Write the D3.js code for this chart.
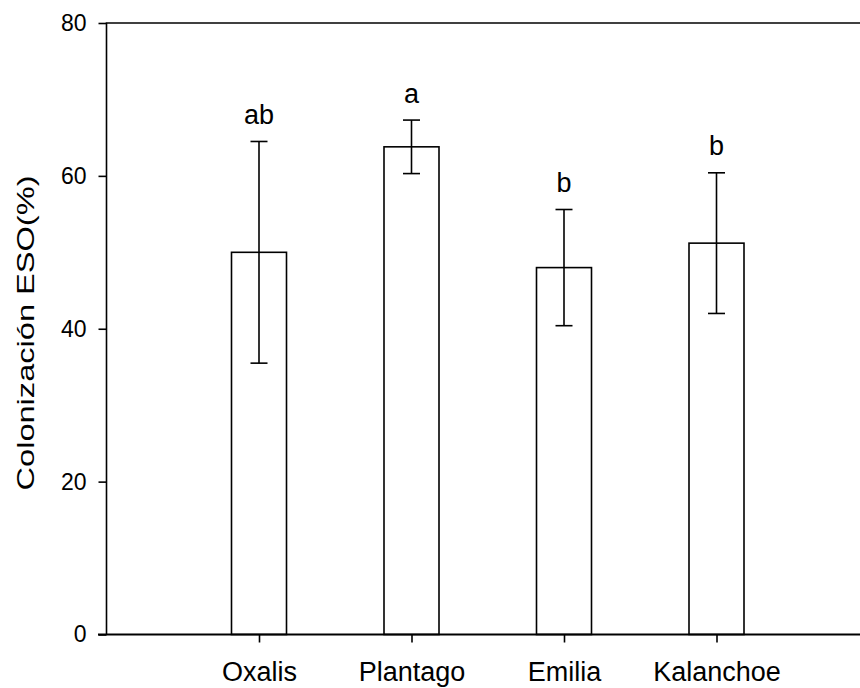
<!DOCTYPE html>
<html><head><meta charset="utf-8">
<script src="https://cdn.jsdelivr.net/npm/d3@7"></script>
<style>body{margin:0;background:#fff}svg{display:block}text{font-family:"Liberation Sans",Arial,sans-serif;fill:#000}</style>
</head><body><svg id="c" width="860" height="688"></svg>
<script>
const categories = ["Oxalis", "Plantago", "Emilia", "Kalanchoe"];
const means = [50.0, 63.8, 48.0, 51.2];
const errors = [14.5, 3.5, 7.6, 9.2];
const letters = ["ab", "a", "b", "b"];
const yTicks = [0, 20, 40, 60, 80];

const svg = d3.select("#c");
const pL = 106.5, pR = 869, pT = 23, pB = 634.5;
const x = d3.scaleLinear().domain([0, 5]).range([pL, pR]);
const y = d3.scaleLinear().domain([0, 80]).range([pB, pT]);
const barW = 55, capW = 17;

// bars
svg.selectAll("rect.bar").data(means).join("rect")
  .attr("x", (d, i) => x(i + 1) - barW / 2).attr("y", d => y(d))
  .attr("width", barW).attr("height", d => y(0) - y(d))
  .attr("fill", "#fff").attr("stroke", "#000").attr("stroke-width", 1.6);

// error bars
const eg = svg.append("g").attr("stroke", "#000").attr("stroke-width", 1.6);
means.forEach((m, i) => {
  const cx = x(i + 1);
  eg.append("line").attr("x1", cx).attr("x2", cx).attr("y1", y(m - errors[i])).attr("y2", y(m + errors[i]));
  eg.append("line").attr("x1", cx - capW / 2).attr("x2", cx + capW / 2).attr("y1", y(m + errors[i])).attr("y2", y(m + errors[i]));
  eg.append("line").attr("x1", cx - capW / 2).attr("x2", cx + capW / 2).attr("y1", y(m - errors[i])).attr("y2", y(m - errors[i]));
});

// letters
svg.selectAll("text.let").data(letters).join("text")
  .attr("x", (d, i) => x(i + 1)).attr("y", (d, i) => y(means[i] + errors[i]) - 17.5)
  .attr("text-anchor", "middle").attr("font-size", 27).text(d => d);

// y axis
const ya = svg.append("g").attr("transform", `translate(${pL},0)`)
  .call(d3.axisLeft(y).tickValues(yTicks).tickSize(8).tickPadding(12).tickFormat(d3.format("d")));
ya.select(".domain").remove();
ya.selectAll(".tick line").attr("stroke", "#000").attr("stroke-width", 1.6);
ya.selectAll(".tick text").attr("font-size", 23).attr("font-family", "Liberation Sans, Arial, sans-serif").attr("fill", "#000");
svg.append("line").attr("x1", pL).attr("x2", pL).attr("y1", pT).attr("y2", pB).attr("stroke", "#000").attr("stroke-width", 1.6);

// top line
svg.append("line").attr("x1", pL - 0.8).attr("x2", 860).attr("y1", pT).attr("y2", pT).attr("stroke", "#000").attr("stroke-width", 1.6);

// x axis
const xa = svg.append("g").attr("transform", `translate(0,${pB})`)
  .call(d3.axisBottom(x).tickValues([1, 2, 3, 4]).tickSize(8).tickPadding(19).tickFormat(d => categories[d - 1]));
xa.select(".domain").remove();
xa.selectAll(".tick line").attr("stroke", "#000").attr("stroke-width", 1.6);
xa.selectAll(".tick text").attr("font-size", 27).attr("font-family", "Liberation Sans, Arial, sans-serif").attr("fill", "#000");
svg.append("line").attr("x1", 98).attr("x2", 860).attr("y1", pB).attr("y2", pB).attr("stroke", "#000").attr("stroke-width", 2.2);

// y label
svg.append("text").attr("transform", `translate(34,333) rotate(-90)`)
  .attr("text-anchor", "middle").attr("font-size", 24)
  .attr("textLength", 315).attr("lengthAdjust", "spacingAndGlyphs")
  .text("Colonización ESO(%)");
</script></body></html>
